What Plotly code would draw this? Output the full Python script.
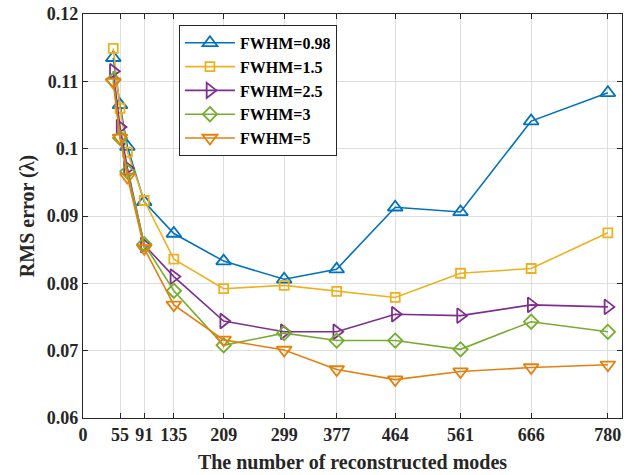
import plotly.graph_objects as go

modes = [45, 55, 66, 91, 135, 209, 299, 377, 464, 561, 666, 780]
fwhm_098 = [0.1135, 0.1065, 0.1003, 0.0921, 0.0874, 0.0833, 0.0806, 0.0821, 0.0913, 0.0906, 0.1041, 0.1083]
fwhm_15 = [0.1149, 0.1060, 0.0995, 0.0923, 0.0836, 0.0792, 0.0797, 0.0788, 0.0779, 0.0815, 0.0822, 0.0875]
fwhm_25 = [0.1115, 0.1032, 0.0971, 0.0857, 0.0810, 0.0744, 0.0728, 0.0728, 0.0754, 0.0752, 0.0768, 0.0765]
fwhm_3 = [0.1102, 0.1016, 0.0966, 0.0858, 0.0789, 0.0708, 0.0726, 0.0715, 0.0715, 0.0702, 0.0743, 0.0728]
fwhm_5 = [0.1099, 0.1016, 0.0958, 0.0852, 0.0768, 0.0716, 0.0701, 0.0672, 0.0657, 0.0669, 0.0675, 0.0679]

series_names = ["FWHM=0.98", "FWHM=1.5", "FWHM=2.5", "FWHM=3", "FWHM=5"]
series_vals = [fwhm_098, fwhm_15, fwhm_25, fwhm_3, fwhm_5]
colors = ["#0072BD", "#EDB120", "#7E2F8E", "#77AC30", "#E3800E"]
symbols = ["triangle-up-open", "square-open", "triangle-right-open", "diamond-open", "triangle-down-open"]
msizes = [13, 9, 13, 11, 13]

x_ticks = [0, 55, 91, 135, 209, 299, 377, 464, 561, 666, 780]
y_ticks = [0.06, 0.07, 0.08, 0.09, 0.10, 0.11, 0.12]
y_labels = ["0.06", "0.07", "0.08", "0.09", "0.1", "0.11", "0.12"]

font_family = "Liberation Serif, Times New Roman, serif"

fig = go.Figure()
for name, vals, c, s, ms in zip(series_names, series_vals, colors, symbols, msizes):
    fig.add_trace(go.Scatter(
        x=modes, y=vals, name=name, mode="lines+markers",
        line=dict(color=c, width=1.6),
        marker=dict(symbol=s, size=ms, color=c, line=dict(width=1.8, color=c)),
    ))

axis_common = dict(
    showgrid=True, gridcolor="#dedede", gridwidth=1,
    showline=True, linecolor="#262626", linewidth=1.2, mirror="ticks",
    ticks="inside", ticklen=5, tickcolor="#262626", zeroline=False,
    tickfont=dict(family=font_family, size=18, color="#262626", weight="bold"),
    automargin=False,
)

fig.update_layout(
    width=639, height=475,
    margin=dict(l=83, r=17, t=14, b=57),
    paper_bgcolor="white", plot_bgcolor="white",
    font=dict(family=font_family, color="#262626"),
    xaxis=dict(range=[0, 801], tickmode="array", tickvals=x_ticks,
               ticktext=[str(v) for v in x_ticks],
               title=dict(text="The number of reconstructed modes", standoff=11,
                          font=dict(family=font_family, size=20, color="#262626", weight="bold")),
               **axis_common),
    yaxis=dict(range=[0.06, 0.12], tickmode="array", tickvals=y_ticks, ticktext=y_labels,
               title=dict(text="RMS error (λ)", standoff=6,
                          font=dict(family=font_family, size=20, color="#262626", weight="bold")),
               **axis_common),
    legend=dict(x=0.178, y=0.973, xanchor="left", yanchor="top",
                bgcolor="white", bordercolor="#262626", borderwidth=1,
                font=dict(family=font_family, size=16, color="#000000", weight="bold"),
                tracegroupgap=0, itemwidth=50),
    showlegend=True,
)

fig.write_html("out.html")
